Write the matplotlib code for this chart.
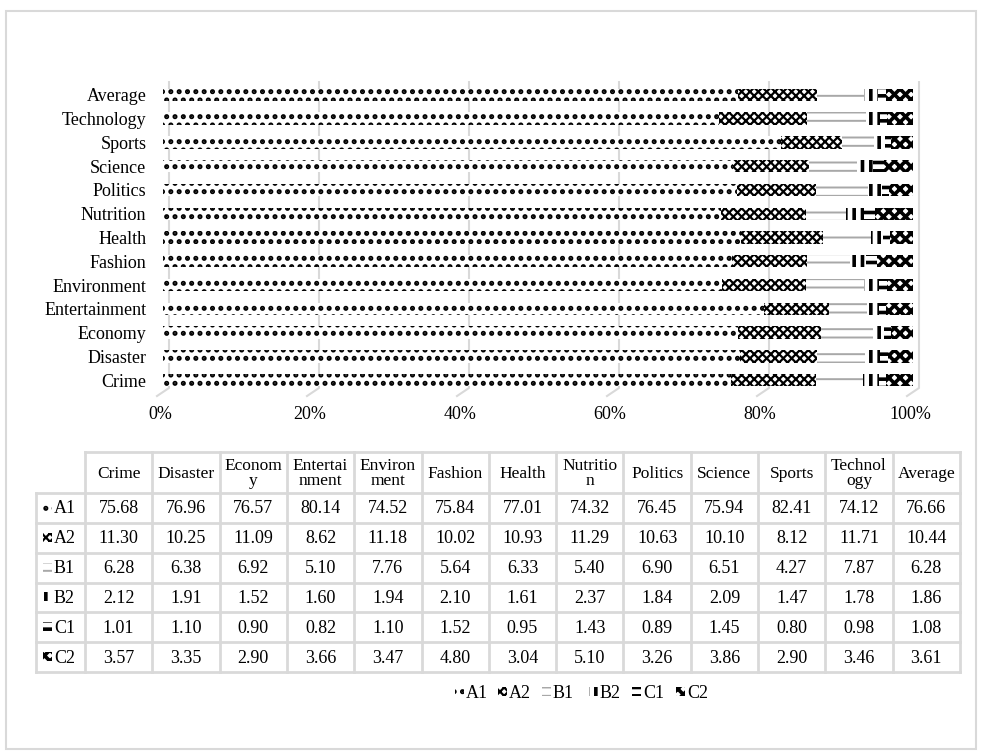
import matplotlib
matplotlib.use("Agg")
import matplotlib.pyplot as plt
from matplotlib.patches import Rectangle
from matplotlib.transforms import ScaledTranslation
import numpy as np

plt.rcParams['font.family'] = ['Liberation Serif', 'DejaVu Serif']
plt.rcParams['hatch.linewidth'] = 1.2

categories = ["Crime", "Disaster", "Economy", "Entertainment", "Environment",
              "Fashion", "Health", "Nutrition", "Politics", "Science",
              "Sports", "Technology", "Average"]
header_labels = ["Crime", "Disaster", "Econom\ny", "Entertai\nnment", "Environ\nment",
                 "Fashion", "Health", "Nutritio\nn", "Politics", "Science",
                 "Sports", "Technol\nogy", "Average"]
series_names = ["A1", "A2", "B1", "B2", "C1", "C2"]

A1 = [75.68, 76.96, 76.57, 80.14, 74.52, 75.84, 77.01, 74.32, 76.45, 75.94, 82.41, 74.12, 76.66]
A2 = [11.30, 10.25, 11.09, 8.62, 11.18, 10.02, 10.93, 11.29, 10.63, 10.10, 8.12, 11.71, 10.44]
B1 = [6.28, 6.38, 6.92, 5.10, 7.76, 5.64, 6.33, 5.40, 6.90, 6.51, 4.27, 7.87, 6.28]
B2 = [2.12, 1.91, 1.52, 1.60, 1.94, 2.10, 1.61, 2.37, 1.84, 2.09, 1.47, 1.78, 1.86]
C1 = [1.01, 1.10, 0.90, 0.82, 1.10, 1.52, 0.95, 1.43, 0.89, 1.45, 0.80, 0.98, 1.08]
C2 = [3.57, 3.35, 2.90, 3.66, 3.47, 4.80, 3.04, 5.10, 3.26, 3.86, 2.90, 3.46, 3.61]
series = [A1, A2, B1, B2, C1, C2]

# fill styles per series: (face, hatch colour, hatch, hatch width)
styles = [
    ("white", "black", "..", 2.4),
    ("white", "black", "xxxx", 1.6),
    ("white", "#a8a8a8", "--", 1.4),
    ("white", "black", "||", 2.6),
    ("white", "black", "--", 2.6),
    ("white", "black", "xxx", 2.6),
]

W, H = 982, 754
fig = plt.figure(figsize=(W / 100, H / 100), dpi=100)


def px_rect(left, top, right, bottom):
    return [left / W, 1 - bottom / H, (right - left) / W, (bottom - top) / H]


def style_patch(p, hlw):
    if hasattr(p, "set_hatch_linewidth"):
        p.set_hatch_linewidth(hlw)


# ---- bar chart ----
ax = fig.add_axes(px_rect(163, 83, 913, 392))
data = np.array(series)
totals = data.sum(axis=0)
pct = data / totals * 100
y = np.arange(len(categories))
left = np.zeros(len(categories))
for vals, (fc, hc, hatch, hlw) in zip(pct, styles):
    bars = ax.barh(y, vals, left=left, height=0.52, color=fc, edgecolor=hc,
                   hatch=hatch, linewidth=0, zorder=3)
    for b in bars:
        style_patch(b, hlw)
    left += vals

ax.set_xlim(0, 100)
ax.set_ylim(-0.5, len(categories) - 0.5)
for s in ax.spines.values():
    s.set_visible(False)
ax.set_yticks(y)
ax.set_yticklabels(categories, fontsize=13)
ax.tick_params(axis='y', length=0, pad=12)
ticks = [0, 20, 40, 60, 80, 100]
ax.set_xticks(ticks)
ax.set_xticklabels([f"{t}%" for t in ticks], fontsize=13)
ax.tick_params(axis='x', length=0, pad=10)
for lab in ax.get_xticklabels():
    lab.set_transform(lab.get_transform() + ScaledTranslation(-0.03, 0, fig.dpi_scale_trans))

# gridlines on the back wall with a short floor segment
trans = ax.get_xaxis_transform()
for t in ticks:
    gx = t + 0.8
    ax.plot([gx, gx, t - 0.8], [1.003, 0.013, -0.013], color="#d9d9d9",
            lw=1.5, transform=trans, clip_on=False, zorder=1)

# ---- overlay in pixel coordinates: table, legend, frame ----
ov = fig.add_axes([0, 0, 1, 1], zorder=5)
ov.set_xlim(0, W)
ov.set_ylim(H, 0)
ov.axis("off")
ov.patch.set_alpha(0)

grid_c = "#d9d9d9"
ov.add_patch(Rectangle((6, 11), 970, 738, fill=False, edgecolor=grid_c, lw=1.5))

col0_l, col0_r = 36, 85
col_w = (960 - 85) / 13
head_t, head_b = 452, 493
row_h = (672 - 493) / 6
rows_y = [head_b + i * row_h for i in range(7)]

ov.plot([col0_r, 960], [head_t, head_t], color=grid_c, lw=2)
for yy in rows_y:
    ov.plot([col0_l, 960], [yy, yy], color=grid_c, lw=2)
ov.plot([col0_l, col0_l], [head_b, rows_y[-1]], color=grid_c, lw=2)
for i in range(14):
    xx = col0_r + i * col_w
    ov.plot([xx, xx], [head_t, rows_y[-1]], color=grid_c, lw=2)

for i, lab in enumerate(header_labels):
    cx = col0_r + (i + 0.5) * col_w
    ov.text(cx, (head_t + head_b) / 2 + 1, lab, ha="center", va="center",
            fontsize=12.5, linespacing=0.95)

for r, (name, vals, (fc, hc, hatch, hlw)) in enumerate(zip(series_names, series, styles)):
    cy = rows_y[r] + row_h / 2
    p = ov.add_patch(Rectangle((43, cy - 5), 9, 9, facecolor=fc, edgecolor=hc,
                               hatch=hatch, lw=0))
    style_patch(p, hlw)
    ov.text(54, cy + 1, name, ha="left", va="center", fontsize=13)
    for i, v in enumerate(vals):
        cx = col0_r + (i + 0.5) * col_w
        ov.text(cx, cy + 1, f"{v:.2f}", ha="center", va="center", fontsize=13)

# legend
leg_y = 692
leg_x = [455, 498, 542, 589, 632, 676]
for x0, name, (fc, hc, hatch, hlw) in zip(leg_x, series_names, styles):
    p = ov.add_patch(Rectangle((x0, leg_y - 5), 9, 9, facecolor=fc, edgecolor=hc,
                               hatch=hatch, lw=0))
    style_patch(p, hlw)
    ov.text(x0 + 11, leg_y + 1, name, ha="left", va="center", fontsize=13)

fig.savefig("out.png", dpi=100)
